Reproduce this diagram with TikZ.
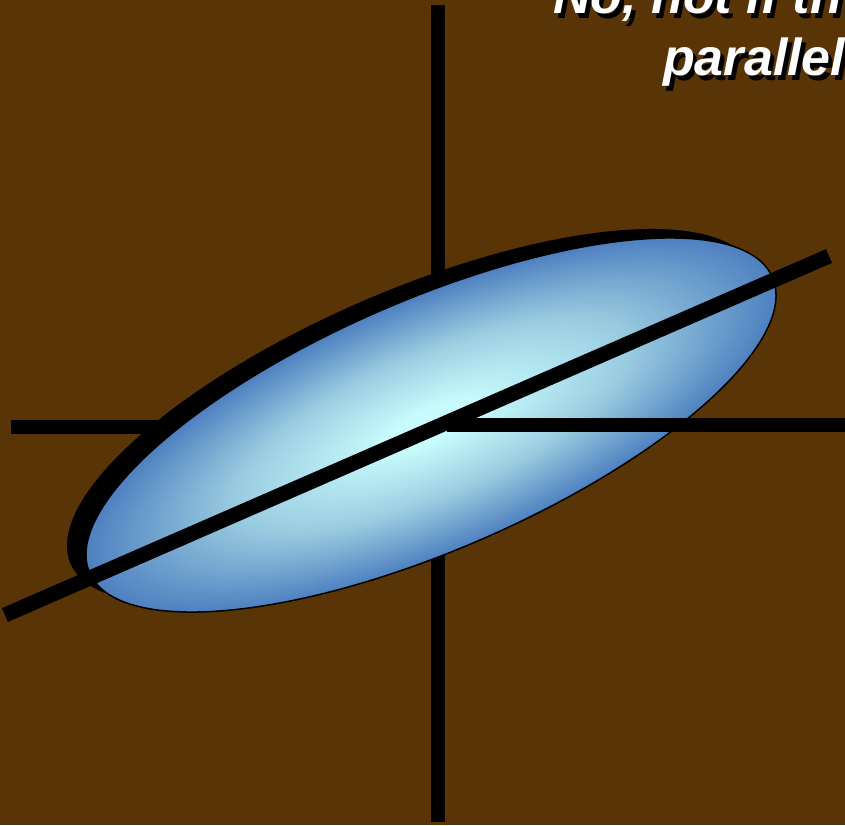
\documentclass[tikz,border=0pt]{standalone}
\usepackage{fontspec}
\setmainfont{Liberation Sans}
\definecolor{bgbrown}{RGB}{89,52,6}
\definecolor{cLight}{RGB}{200,252,252}
\definecolor{cMid}{RGB}{155,205,225}
\definecolor{cBlue}{RGB}{78,128,192}
\pgfdeclareradialshading{ellshade}{\pgfpoint{0bp}{0bp}}{color(0bp)=(cLight); color(3bp)=(cLight); color(14bp)=(cMid); color(25bp)=(cBlue); color(50bp)=(cBlue)}
\tikzset{
  axisline/.style={draw=black, line width=14pt, line cap=butt},
  diagline/.style={draw=black, line width=15pt, line cap=butt},
  titletext/.style={anchor=base west, inner sep=0pt, font=\fontsize{52}{62}\selectfont\bfseries\itshape},
}
\begin{document}
\begin{tikzpicture}[x=1pt, y=-1pt]
  \useasboundingbox (0,0) rectangle (845,825);
  \fill[bgbrown] (0,0) rectangle (845,825);
  \clip (0,0) rectangle (845,825);
  % axis endpoints
  \coordinate (vtop) at (437.5,5);
  \coordinate (vbot) at (437.5,822);
  \coordinate (hleft) at (11,427);
  \coordinate (hmid) at (447,427);
  \coordinate (hmidr) at (447,425);
  \coordinate (hright) at (860,425);
  \coordinate (dleft) at (5,615);
  \coordinate (dright) at (829,256);
  % axes below the ellipse
  \draw[axisline] (vtop) -- (vbot);
  \draw[axisline] (hleft) -- (hmid);
  % shadow of the ellipse
  \begin{scope}[transform canvas={shift={(412,416)}, rotate=23.4}]
    \fill[black] (0,0) ellipse [x radius=372, y radius=125];
  \end{scope}
  % ellipse
  \begin{scope}[transform canvas={shift={(431,425)}, rotate=23.4}]
    \shade[shading=ellshade, draw=black, line width=1.5pt] (0,0) ellipse [x radius=372, y radius=125];
  \end{scope}
  % lines over the ellipse
  \draw[diagline] (dleft) -- (dright);
  \draw[axisline] (hmidr) -- (hright);
  % title text with shadow
  \node[titletext, text=black] (t1s) at (557,18) {No, not if th};
  \node[titletext, text=white] (t1) at (553,13) {No, not if th};
  \node[titletext, text=black] (t2s) at (667,80) {parallel};
  \node[titletext, text=white] (t2) at (663,75) {parallel};
\end{tikzpicture}
\end{document}
